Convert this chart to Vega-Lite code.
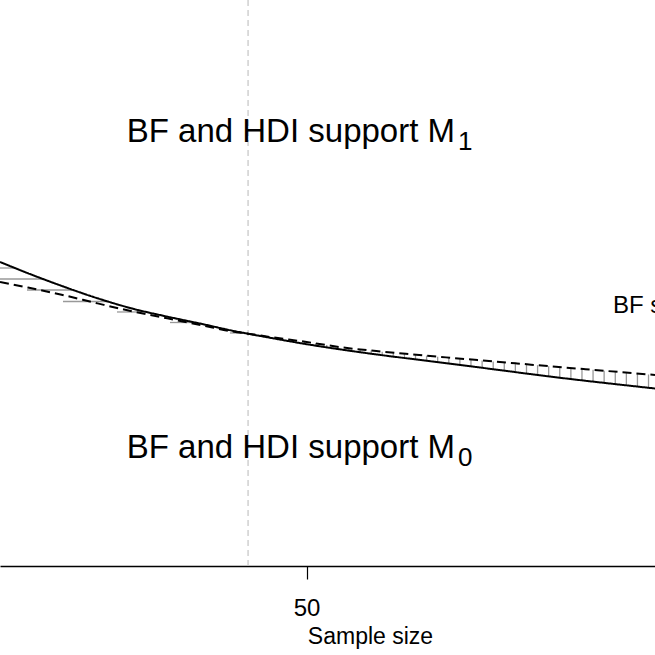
{
  "$schema": "https://vega.github.io/schema/vega-lite/v6.json",
  "width": 655,
  "height": 566,
  "padding": {"left": 0, "top": 0, "right": 0, "bottom": 89},
  "autosize": {"type": "none"},
  "background": "white",
  "config": {"view": {"stroke": null}, "font": "Liberation Sans"},
  "datasets": {
    "curves": [
      {"n": 6, "value": 0.5371, "curve": "solid"},
      {"n": 10, "value": 0.5173, "curve": "solid"},
      {"n": 15, "value": 0.4942, "curve": "solid"},
      {"n": 20, "value": 0.4730, "curve": "solid"},
      {"n": 25, "value": 0.4548, "curve": "solid"},
      {"n": 30, "value": 0.4406, "curve": "solid"},
      {"n": 35, "value": 0.4276, "curve": "solid"},
      {"n": 40, "value": 0.4141, "curve": "solid"},
      {"n": 41.6, "value": 0.4104, "curve": "solid"},
      {"n": 45, "value": 0.4027, "curve": "solid"},
      {"n": 50, "value": 0.3919, "curve": "solid"},
      {"n": 55, "value": 0.3824, "curve": "solid"},
      {"n": 60, "value": 0.3738, "curve": "solid"},
      {"n": 65, "value": 0.3660, "curve": "solid"},
      {"n": 70, "value": 0.3583, "curve": "solid"},
      {"n": 75, "value": 0.3505, "curve": "solid"},
      {"n": 80, "value": 0.3425, "curve": "solid"},
      {"n": 85, "value": 0.3346, "curve": "solid"},
      {"n": 90, "value": 0.3273, "curve": "solid"},
      {"n": 95, "value": 0.3204, "curve": "solid"},
      {"n": 100, "value": 0.3136, "curve": "solid"},
      {"n": 6, "value": 0.5018, "curve": "dashed"},
      {"n": 10, "value": 0.4920, "curve": "dashed"},
      {"n": 15, "value": 0.4788, "curve": "dashed"},
      {"n": 20, "value": 0.4640, "curve": "dashed"},
      {"n": 25, "value": 0.4498, "curve": "dashed"},
      {"n": 30, "value": 0.4376, "curve": "dashed"},
      {"n": 35, "value": 0.4251, "curve": "dashed"},
      {"n": 40, "value": 0.4131, "curve": "dashed"},
      {"n": 41.6, "value": 0.4104, "curve": "dashed"},
      {"n": 45, "value": 0.4042, "curve": "dashed"},
      {"n": 50, "value": 0.3958, "curve": "dashed"},
      {"n": 55, "value": 0.3864, "curve": "dashed"},
      {"n": 60, "value": 0.3797, "curve": "dashed"},
      {"n": 65, "value": 0.3740, "curve": "dashed"},
      {"n": 70, "value": 0.3686, "curve": "dashed"},
      {"n": 75, "value": 0.3633, "curve": "dashed"},
      {"n": 80, "value": 0.3581, "curve": "dashed"},
      {"n": 85, "value": 0.3528, "curve": "dashed"},
      {"n": 90, "value": 0.3477, "curve": "dashed"},
      {"n": 95, "value": 0.3426, "curve": "dashed"},
      {"n": 100, "value": 0.3375, "curve": "dashed"}
    ],
    "hhatch": [
      {"value": 0.5265, "n": 6, "n2": 8.14},
      {"value": 0.5071, "n": 6, "n2": 12.21},
      {"value": 0.4876, "n": 9.87, "n2": 16.55},
      {"value": 0.4673, "n": 15.04, "n2": 21.56},
      {"value": 0.4488, "n": 22.79, "n2": 27.13},
      {"value": 0.4302, "n": 30.4, "n2": 33.97},
      {"value": 0.4117, "n": 39.0, "n2": 40.93}
    ],
    "vhatch": [
      {"n": 43.33, "value": 0.4072, "value2": 0.4065},
      {"n": 44.93, "value": 0.4043, "value2": 0.4029},
      {"n": 46.52, "value": 0.4016, "value2": 0.3994},
      {"n": 48.11, "value": 0.3990, "value2": 0.3960},
      {"n": 49.70, "value": 0.3963, "value2": 0.3925},
      {"n": 51.30, "value": 0.3934, "value2": 0.3894},
      {"n": 52.89, "value": 0.3904, "value2": 0.3864},
      {"n": 54.48, "value": 0.3874, "value2": 0.3834},
      {"n": 56.07, "value": 0.3850, "value2": 0.3806},
      {"n": 57.67, "value": 0.3828, "value2": 0.3778},
      {"n": 59.26, "value": 0.3807, "value2": 0.3751},
      {"n": 60.85, "value": 0.3787, "value2": 0.3725},
      {"n": 62.44, "value": 0.3769, "value2": 0.3700},
      {"n": 64.04, "value": 0.3751, "value2": 0.3675},
      {"n": 65.63, "value": 0.3733, "value2": 0.3650},
      {"n": 67.22, "value": 0.3716, "value2": 0.3626},
      {"n": 68.81, "value": 0.3699, "value2": 0.3601},
      {"n": 70.41, "value": 0.3682, "value2": 0.3577},
      {"n": 72.00, "value": 0.3665, "value2": 0.3552},
      {"n": 73.59, "value": 0.3648, "value2": 0.3527},
      {"n": 75.19, "value": 0.3631, "value2": 0.3502},
      {"n": 76.78, "value": 0.3614, "value2": 0.3477},
      {"n": 78.37, "value": 0.3598, "value2": 0.3451},
      {"n": 79.96, "value": 0.3581, "value2": 0.3426},
      {"n": 81.56, "value": 0.3564, "value2": 0.3399},
      {"n": 83.15, "value": 0.3548, "value2": 0.3374},
      {"n": 84.74, "value": 0.3531, "value2": 0.3349},
      {"n": 86.33, "value": 0.3514, "value2": 0.3326},
      {"n": 87.93, "value": 0.3498, "value2": 0.3303},
      {"n": 89.52, "value": 0.3482, "value2": 0.3281},
      {"n": 91.11, "value": 0.3466, "value2": 0.3259},
      {"n": 92.70, "value": 0.3449, "value2": 0.3237},
      {"n": 94.30, "value": 0.3433, "value2": 0.3215},
      {"n": 95.89, "value": 0.3417, "value2": 0.3193},
      {"n": 97.48, "value": 0.3401, "value2": 0.3171},
      {"n": 99.07, "value": 0.3384, "value2": 0.3149}
    ],
    "marker": [{"n": 41.6, "value": 1, "value2": 0}],
    "main": [
      {"n": 71.3, "value": 0.7491, "label": "BF and HDI support M"},
      {"n": 71.3, "value": 0.1913, "label": "BF and HDI support M"}
    ],
    "sub": [
      {"n": 71.3, "value": 0.7491, "label": "1"},
      {"n": 71.3, "value": 0.1913, "label": "0"}
    ],
    "side": [
      {"n": 93.97, "value": 0.447, "label": "BF supports M0, HDI supports M1"}
    ]
  },
  "encoding": {
    "x": {
      "field": "n",
      "type": "quantitative",
      "scale": {"domain": [6, 100], "nice": false, "zero": false},
      "axis": {
        "values": [50],
        "title": "Sample size",
        "grid": false,
        "domainColor": "#000000",
        "domainWidth": 1.5,
        "tickColor": "#000000",
        "tickSize": 13,
        "tickWidth": 1.2,
        "labelFont": "Liberation Sans",
        "labelFontSize": 24,
        "labelColor": "#000000",
        "labelPadding": 17,
        "titleFont": "Liberation Sans",
        "titleFontSize": 23,
        "titleFontWeight": "normal",
        "titleColor": "#000000",
        "titleX": 370,
        "titleY": 77,
        "titleBaseline": "alphabetic",
        "titleAlign": "center"
      }
    },
    "y": {
      "field": "value",
      "type": "quantitative",
      "scale": {"domain": [0, 1], "nice": false, "zero": false},
      "axis": null
    }
  },
  "layer": [
    {
      "data": {"name": "marker"},
      "mark": {"type": "rule", "color": "#c4c4c4", "strokeWidth": 1.2, "strokeDash": [6, 4]},
      "encoding": {"y2": {"field": "value2"}}
    },
    {
      "data": {"name": "hhatch"},
      "mark": {"type": "rule", "color": "#999999", "strokeWidth": 1.3, "clip": true},
      "encoding": {"x2": {"field": "n2"}}
    },
    {
      "data": {"name": "vhatch"},
      "mark": {"type": "rule", "color": "#999999", "strokeWidth": 1.3, "clip": true},
      "encoding": {"y2": {"field": "value2"}}
    },
    {
      "data": {"name": "curves"},
      "mark": {"type": "line", "color": "#000000", "strokeWidth": 2, "interpolate": "monotone", "clip": true},
      "encoding": {
        "detail": {"field": "curve", "type": "nominal"},
        "strokeDash": {
          "field": "curve",
          "type": "nominal",
          "scale": {"domain": ["solid", "dashed"], "range": [[1, 0], [9, 5]]},
          "legend": null
        }
      }
    },
    {
      "data": {"name": "main"},
      "mark": {"type": "text", "align": "right", "baseline": "alphabetic", "fontSize": 33, "font": "Liberation Sans", "color": "#000000"},
      "encoding": {"text": {"field": "label"}}
    },
    {
      "data": {"name": "sub"},
      "mark": {"type": "text", "align": "left", "baseline": "alphabetic", "dx": 3, "dy": 8, "fontSize": 26, "font": "Liberation Sans", "color": "#000000"},
      "encoding": {"text": {"field": "label"}}
    },
    {
      "data": {"name": "side"},
      "mark": {"type": "text", "align": "left", "baseline": "alphabetic", "fontSize": 24, "font": "Liberation Sans", "color": "#000000"},
      "encoding": {"text": {"field": "label"}}
    }
  ]
}
